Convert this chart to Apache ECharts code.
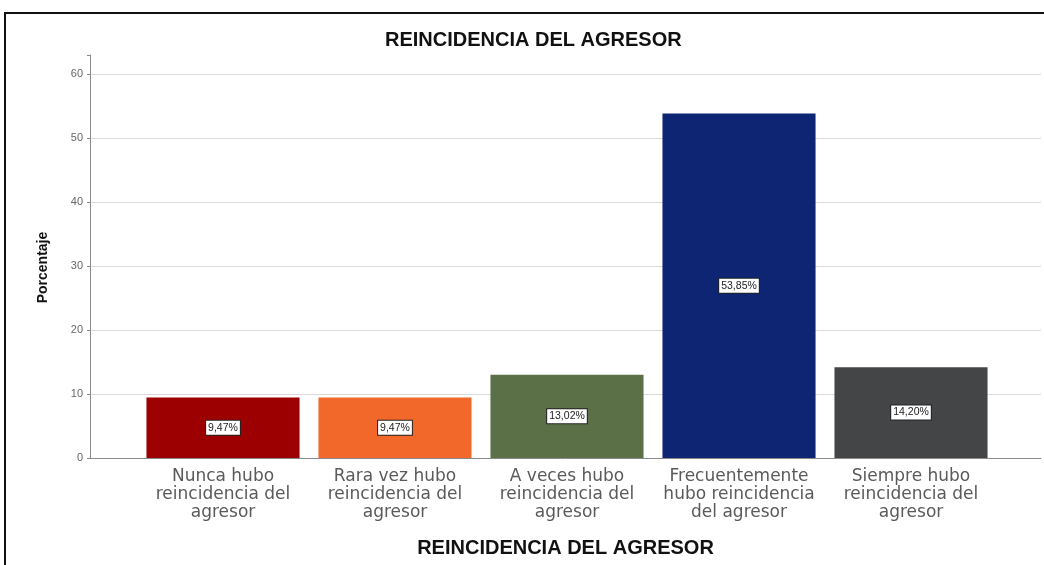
<!DOCTYPE html>
<html>
<head>
<meta charset="utf-8">
<script src="https://cdn.jsdelivr.net/npm/echarts@6/dist/echarts.min.js"></script>
<style>
  html, body { margin: 0; padding: 0; background: #fff; overflow: hidden; }
  #frame { position: absolute; left: 4px; top: 12px; width: 2000px; height: 2000px; border: 2px solid #111; box-sizing: border-box; }
  #chart { position: absolute; left: 0; top: 0; width: 1044px; height: 565px; }
</style>
</head>
<body>
<div id="frame"></div>
<div id="chart"></div>
<script>
const categories = [
  'Nunca hubo\nreincidencia del\nagresor',
  'Rara vez hubo\nreincidencia del\nagresor',
  'A veces hubo\nreincidencia del\nagresor',
  'Frecuentemente\nhubo reincidencia\ndel agresor',
  'Siempre hubo\nreincidencia del\nagresor'
];
const values = [9.47, 9.47, 13.02, 53.85, 14.20];
const valueLabels = ['9,47%', '9,47%', '13,02%', '53,85%', '14,20%'];
const barColors = ['#9c0000', '#f2682a', '#5b7046', '#0d2572', '#434547'];
const yTicks = [0, 10, 20, 30, 40, 50, 60];
const titleText = 'REINCIDENCIA DEL AGRESOR';
const xAxisName = 'REINCIDENCIA DEL AGRESOR';
const yAxisName = 'Porcentaje';

const Y_MAX = 63;
const chart = echarts.init(document.getElementById('chart'), null, { renderer: 'canvas' });
const grey = '#d9d9d9';

const option = {
  backgroundColor: 'transparent',
  animation: false,
  title: {
    text: titleText,
    left: 380,
    top: 25,
    textStyle: { fontFamily: '"Liberation Sans", Arial', fontWeight: 'bold', fontSize: 20, color: '#111' }
  },
  grid: [
    { left: 90, right: 3, top: 55, bottom: 107, containLabel: false, outerBoundsMode: 'none' },
    { left: 137, width: 860, top: 55, bottom: 107, containLabel: false, outerBoundsMode: 'none' }
  ],
  xAxis: [
    {
      gridIndex: 0, type: 'value', min: 0, max: 1,
      axisLine: { show: true, lineStyle: { color: '#8a8a8a', width: 1 } },
      axisTick: { show: false }, axisLabel: { show: false }, splitLine: { show: false },
      name: xAxisName, nameLocation: 'middle', nameGap: 80,
      nameTextStyle: { fontFamily: '"Liberation Sans", Arial', fontWeight: 'bold', fontSize: 20, color: '#111' }
    },
    {
      gridIndex: 1, type: 'category', data: categories,
      axisLine: { show: false }, axisTick: { show: false },
      axisLabel: { interval: 0, margin: 10, color: '#5a5a5a', fontFamily: '"DejaVu Sans", sans-serif', fontSize: 17, lineHeight: 18 }
    }
  ],
  yAxis: [
    {
      gridIndex: 0, type: 'value', min: 0, max: Y_MAX, interval: 10,
      axisLine: { show: true, lineStyle: { color: '#8a8a8a', width: 1 } },
      axisTick: { show: true, length: 3, lineStyle: { color: '#8a8a8a' } },
      axisLabel: {
        color: '#666', fontFamily: '"Liberation Sans", Arial', fontSize: 11, margin: 7,
        formatter: function (v) { return yTicks.indexOf(v) >= 0 ? String(v) : ''; }
      },
      splitLine: { show: true, lineStyle: { color: [grey, grey, grey, grey, grey, grey, grey, 'rgba(0,0,0,0)'], width: 1 } },
      name: yAxisName, nameLocation: 'middle', nameGap: 40, nameRotate: 90,
      nameTextStyle: { fontFamily: '"Liberation Sans", Arial', fontWeight: 'bold', fontSize: 14, color: '#111', padding: [0, 22, 0, 0] }
    },
    {
      gridIndex: 1, type: 'value', min: 0, max: Y_MAX, show: false
    }
  ],
  series: [
    {
      type: 'bar', xAxisIndex: 1, yAxisIndex: 1,
      barCategoryGap: '11%',
      data: values.map(function (v, i) {
        return { value: v, itemStyle: { color: barColors[i] } };
      }),
      label: {
        show: true, position: 'inside',
        formatter: function (p) { return valueLabels[p.dataIndex]; },
        backgroundColor: '#fff', borderColor: '#222', borderWidth: 1,
        padding: [2, 2, 1, 2], color: '#222', fontSize: 10.5,
        fontFamily: '"Liberation Sans", Arial'
      }
    }
  ]
};
chart.setOption(option);
</script>
</body>
</html>
